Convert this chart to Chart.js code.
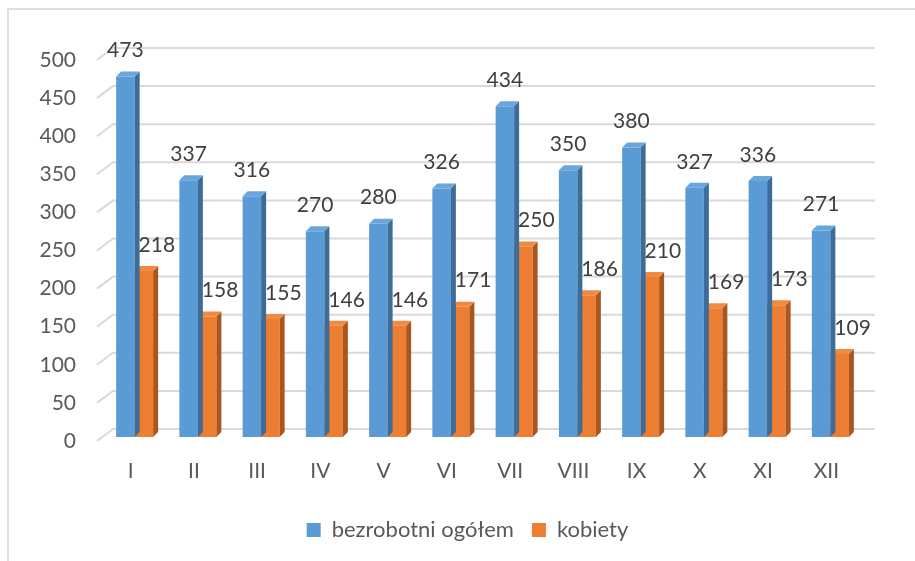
<!DOCTYPE html>
<html>
<head>
<meta charset="utf-8">
<script src="https://cdn.jsdelivr.net/npm/chart.js@4"></script>
<style>
  html, body { margin: 0; padding: 0; background: #fff; }
  #wrap { position: relative; width: 915px; height: 561px; overflow: hidden; }
  #frame { position: absolute; left: 7px; top: 8px; width: 940px; height: 600px;
           border-left: 2px solid #dedede; border-top: 2px solid #dedede; }
  canvas { position: absolute; left: 0; top: 0; }
</style>
</head>
<body>
<div id="wrap">
  <div id="frame"></div>
  <canvas id="chart-bar" width="915" height="561"></canvas>
</div>
<script>
//=================================================================
// DANE
//=================================================================
const miesiace = ['I', 'II', 'III', 'IV', 'V', 'VI', 'VII', 'VIII', 'IX', 'X', 'XI', 'XII'];
const ogolem = [473, 337, 316, 270, 280, 326, 434, 350, 380, 327, 336, 271];
const kobiety = [218, 158, 155, 146, 146, 171, 250, 186, 210, 169, 173, 109];
const osY = [0, 50, 100, 150, 200, 250, 300, 350, 400, 450, 500];

const FONT = 'Lato, "Open Sans", sans-serif';
const szary = '#595959';

// przesuniecie "3D" slupkow i scian
const BAR_DX = 4, BAR_DY = -4;   // slupki stoja w srodku podlogi
const DEPTH_X = 5, DEPTH_Y = 5;  // glebokosc slupka
const WALL_X0 = 97, WALL_X1 = 113, WALL_DY = 12, WALL_END = 875;

const kolory = [
    { front: '#5B9BD5', side: '#3D6C98', top: '#6AA6DC' },
    { front: '#ED7D31', side: '#A9571F', top: '#F08A43' }
];

//=================================================================
// PLUGIN 3D
//=================================================================
const plugin3d = {
    id: 'plugin3d',
    beforeDatasetsDraw(chart) {
        const ctx = chart.ctx;
        const y = chart.scales.y;
        // siatka na tylnej scianie
        ctx.save();
        ctx.strokeStyle = '#d9d9d9';
        ctx.lineWidth = 2;
        osY.forEach(v => {
            const yy = y.getPixelForValue(v);
            ctx.beginPath();
            ctx.moveTo(WALL_X0, yy);
            ctx.lineTo(WALL_X1, yy - WALL_DY);
            ctx.lineTo(WALL_END, yy - WALL_DY);
            ctx.stroke();
        });
        ctx.restore();
        ctx.save();
        ctx.translate(BAR_DX, BAR_DY);
    },
    afterDatasetDraw(chart, args) {
        const ctx = chart.ctx;
        const k = kolory[args.index];
        args.meta.data.forEach(el => {
            const p = el.getProps(['x', 'y', 'base', 'width'], true);
            const l = p.x - p.width / 2, r = p.x + p.width / 2;
            // bok
            ctx.fillStyle = k.side;
            ctx.beginPath();
            ctx.moveTo(r, p.y);
            ctx.lineTo(r + DEPTH_X, p.y - DEPTH_Y);
            ctx.lineTo(r + DEPTH_X, p.base - DEPTH_Y);
            ctx.lineTo(r, p.base);
            ctx.closePath();
            ctx.fill();
            // gora
            ctx.fillStyle = k.top;
            ctx.beginPath();
            ctx.moveTo(l, p.y);
            ctx.lineTo(l + DEPTH_X, p.y - DEPTH_Y);
            ctx.lineTo(r + DEPTH_X, p.y - DEPTH_Y);
            ctx.lineTo(r, p.y);
            ctx.closePath();
            ctx.fill();
        });
    },
    afterDatasetsDraw(chart) {
        const ctx = chart.ctx;
        ctx.restore();
        // etykiety danych
        ctx.save();
        ctx.font = '21px ' + FONT;
        ctx.fillStyle = '#404040';
        ctx.textAlign = 'center';
        ctx.textBaseline = 'middle';
        chart.data.datasets.forEach((ds, i) => {
            const meta = chart.getDatasetMeta(i);
            meta.data.forEach((el, j) => {
                const dx = i === 1 ? 13 : 0;
                ctx.fillText(String(ds.data[j]), el.x + BAR_DX + dx, el.y + BAR_DY - 26);
            });
        });
        ctx.restore();
    }
};

//=================================================================
// WYKRES
//=================================================================
const chartBar = document.getElementById('chart-bar');

new Chart(chartBar, {
    type: 'bar',
    data: {
        labels: miesiace,
        datasets: [{
            label: 'bezrobotni ogółem',
            data: ogolem,
            backgroundColor: kolory[0].front,
            borderWidth: 0,
            categoryPercentage: 0.585,
            barPercentage: 1.0,
            clip: false
        }, {
            label: 'kobiety',
            data: kobiety,
            backgroundColor: kolory[1].front,
            borderWidth: 0,
            categoryPercentage: 0.585,
            barPercentage: 1.0,
            clip: false
        }]
    },
    options: {
        responsive: false,
        animation: false,
        layout: { padding: { left: 20, top: 60, right: 0, bottom: 10 } },
        plugins: {
            tooltip: { enabled: false },
            legend: {
                position: 'bottom',
                labels: {
                    color: szary,
                    font: { family: FONT, size: 22 },
                    boxWidth: 14,
                    boxHeight: 14,
                    padding: 18
                }
            }
        },
        scales: {
            x: {
                grid: { display: false, drawTicks: false },
                border: { display: false },
                ticks: { color: szary, font: { family: FONT, size: 21 }, padding: 18, maxRotation: 0 },
                afterFit(s) { s.height = 60; }
            },
            y: {
                min: 0,
                max: 500,
                grid: { display: false, drawTicks: false },
                border: { display: false },
                ticks: { stepSize: 50, color: szary, font: { family: FONT, size: 21 }, padding: 23 },
                afterFit(s) { s.width = 79; }
            },
            prawa: { // pusty margines po prawej
                type: 'linear',
                position: 'right',
                grid: { display: false, drawTicks: false },
                border: { display: false },
                ticks: { display: false },
                afterFit(s) { s.width = 57; }
            }
        }
    },
    plugins: [plugin3d]
});
</script>
</body>
</html>
